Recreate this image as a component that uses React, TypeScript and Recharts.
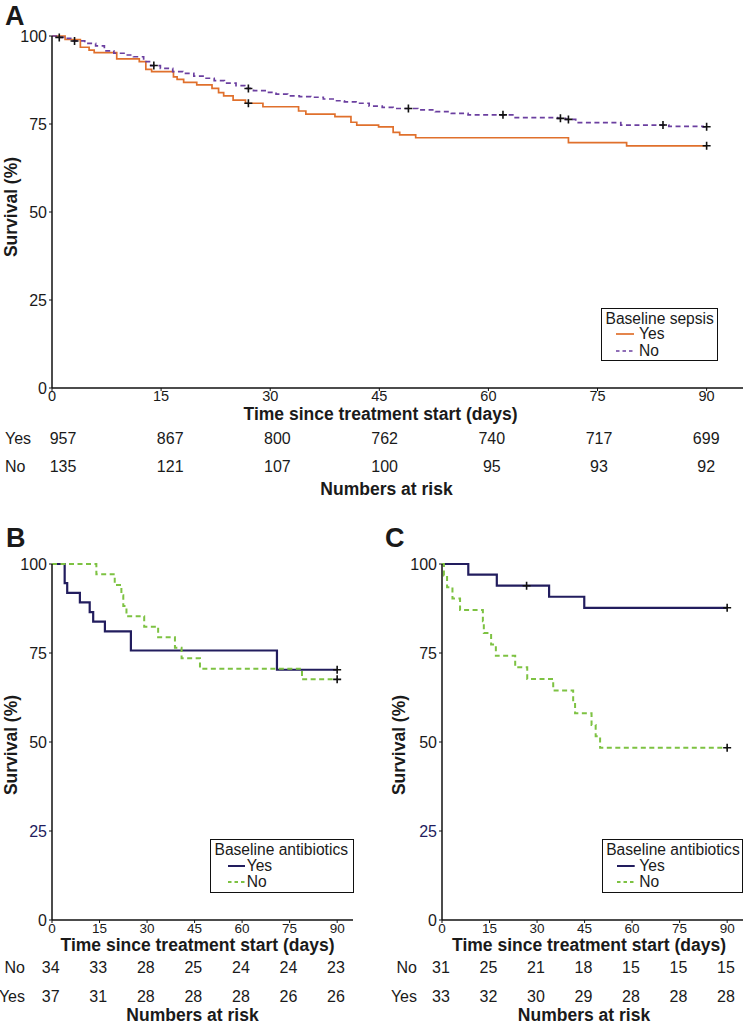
import React from "react";
import { ComposedChart, Line, XAxis, YAxis } from "recharts";

const dayTicks = [0, 15, 30, 45, 60, 75, 90];
const survTicks = [0, 25, 50, 75, 100];

// Panel A - baseline sepsis. [day, survival %]
const sepsisYesSteps = [
  [0, 100], [1.8, 99.0], [3.9, 96.8], [5.1, 96.0], [5.8, 95.3], [8.9, 93.5], [12.0, 92.7],
  [12.9, 90.5], [13.7, 89.9], [16.7, 88.4], [17.2, 87.7], [18.1, 86.8], [19.9, 86.1],
  [22.0, 85.1], [22.9, 83.9], [23.6, 83.0], [24.9, 81.8], [26.6, 80.9], [29.0, 79.9],
  [33.9, 78.7], [34.9, 77.8], [38.9, 77.1], [41.1, 75.5], [41.9, 74.7], [44.9, 74.2],
  [46.9, 72.6], [47.8, 71.9], [50.0, 71.1], [71.0, 69.7], [79.0, 68.8], [90, 68.8],
];
const sepsisYesCensor = [[27.0, 80.9], [90, 68.8]];

const sepsisNoSteps = [
  [0, 100], [0.6, 99.6], [1.6, 99.3], [2.9, 98.6], [4.5, 97.9], [6.0, 97.2], [7.2, 95.8],
  [8.5, 95.1], [9.9, 94.6], [11.2, 94.1], [12.6, 92.7], [13.6, 91.6], [14.9, 90.8],
  [16.6, 89.9], [18.0, 89.4], [19.5, 88.6], [21.0, 88.0], [22.3, 87.3], [23.7, 86.6],
  [25.3, 85.9], [26.5, 85.1], [27.7, 84.5], [29.3, 84.0], [30.8, 83.5], [32.4, 83.0],
  [34.0, 82.8], [35.6, 82.6], [37.3, 82.1], [38.9, 81.6], [40.2, 81.3], [41.8, 80.9],
  [43.6, 80.1], [45.4, 79.7], [46.9, 79.4], [50.3, 79.0], [52.7, 78.5], [54.9, 78.0],
  [57.2, 77.6], [63.5, 76.8], [69.5, 76.6], [70.6, 76.3], [72.0, 75.4], [78.2, 74.7],
  [84.8, 74.3], [89.5, 74.2], [90, 74.2],
];
const sepsisNoCensor = [
  [1.0, 99.6], [3.1, 98.6], [14.0, 91.6], [27.0, 85.1], [49.0, 79.4], [62.0, 77.6],
  [69.9, 76.6], [71.0, 76.3], [84.0, 74.7], [90, 74.2],
];

// Panel B - baseline antibiotics
const abxBYesSteps = [
  [0, 100], [4.0, 94.6], [4.8, 91.9], [8.8, 89.2], [11.9, 86.5], [13.0, 83.8],
  [16.7, 81.1], [24.9, 75.7], [71.0, 70.3], [90, 70.3],
];
const abxBYesCensor = [[90, 70.3]];
const abxBNoSteps = [
  [0, 100], [14.0, 97.1], [19.8, 94.1], [21.9, 91.2], [22.5, 88.2], [23.5, 85.3],
  [29.1, 82.4], [33.5, 79.4], [38.8, 76.5], [40.9, 73.5], [46.7, 70.6], [78.9, 67.6], [90, 67.6],
];
const abxBNoCensor = [[90, 67.6]];

// Panel C - baseline antibiotics
const abxCYesSteps = [
  [0, 100], [8.3, 97.0], [17.3, 93.9], [33.8, 90.8], [44.9, 87.7], [90, 87.7],
];
const abxCYesCensor = [[26.7, 93.9], [90, 87.7]];
const abxCNoSteps = [
  [0, 100], [0.6, 96.8], [1.6, 93.5], [3.3, 90.3], [5.7, 87.1], [12.9, 83.9], [13.2, 80.6],
  [15.5, 77.4], [17.0, 74.2], [23.1, 71.0], [26.9, 67.7], [35.1, 64.5], [41.4, 61.3],
  [42.0, 58.1], [47.2, 54.8], [48.5, 51.6], [49.9, 48.4], [90, 48.4],
];
const abxCNoCensor = [[90, 48.4]];

// numbers at risk
const riskAYes = [957, 867, 800, 762, 740, 717, 699];
const riskANo = [135, 121, 107, 100, 95, 93, 92];
const riskBNo = [34, 33, 28, 25, 24, 24, 23];
const riskBYes = [37, 31, 28, 28, 28, 26, 26];
const riskCNo = [31, 25, 21, 18, 15, 15, 15];
const riskCYes = [33, 32, 30, 29, 28, 28, 28];

const ORANGE = "#e0702c";
const PURPLE = "#6b3fa0";
const NAVY = "#221d5e";
const GREEN = "#7dc242";
const INK = "#1a1a1a";

function build(steps: number[][], censor: number[][]) {
  const pts = steps.map(([t, s]) => ({ t, s, c: false }));
  censor.forEach(([t, s]) => {
    const hit = pts.find((p) => p.t === t && p.s === s);
    if (hit) hit.c = true;
    else pts.push({ t, s, c: true });
  });
  return pts.sort((a, b) => a.t - b.t);
}

function crossDot(p: any) {
  const { cx, cy, payload, index } = p;
  if (!payload || !payload.c) return <g key={`n${index}`} />;
  return (
    <path
      key={`c${index}`}
      d={`M${cx - 4},${cy}H${cx + 4}M${cx},${cy - 4}V${cy + 4}`}
      stroke="#111"
      strokeWidth={1.6}
      fill="none"
    />
  );
}

const yTick = (highlight: boolean) => (p: any) => (
  <text
    x={p.x}
    y={p.y}
    dy="0.36em"
    textAnchor="end"
    fontSize={16}
    fill={highlight && p.payload.value === 25 ? NAVY : INK}
  >
    {p.payload.value}
  </text>
);

const axisLine = { stroke: "#111", strokeWidth: 1.5 };

// text centred vertically on y
function T({ x, y, s = 16, w = "normal", a = "start", children }: any) {
  const shift = a === "middle" ? "-50%" : a === "end" ? "-100%" : "0";
  return (
    <div
      style={{
        position: "absolute",
        left: x,
        top: y - s * 0.49,
        fontSize: s,
        lineHeight: `${s}px`,
        fontWeight: w,
        whiteSpace: "nowrap",
        transform: `translateX(${shift})`,
        color: INK,
      }}
    >
      {children}
    </div>
  );
}

function YTitle({ x, y }: any) {
  return (
    <div
      style={{
        position: "absolute",
        left: x,
        top: y,
        fontSize: 17.5,
        lineHeight: "17.5px",
        fontWeight: "bold",
        whiteSpace: "nowrap",
        transform: "translate(-50%, -50%) rotate(-90deg)",
        color: INK,
      }}
    >
      Survival (%)
    </div>
  );
}

function Legend({ box, title, items, lineX, textX, ys }: any) {
  return (
    <>
      <div
        style={{
          position: "absolute",
          left: box[0],
          top: box[1],
          width: box[2],
          height: box[3],
          border: "1.5px solid #111",
          boxSizing: "border-box",
        }}
      />
      <T x={box[0] + 4.5} y={ys[0]} s={15.6}>{title}</T>
      {items.map((it: any, i: number) => (
        <React.Fragment key={it.label}>
          <svg
            style={{ position: "absolute", left: lineX[0], top: ys[i + 1] - 3 }}
            width={lineX[1] - lineX[0]}
            height={6}
          >
            <line
              x1={0}
              x2={lineX[1] - lineX[0]}
              y1={3}
              y2={3}
              stroke={it.color}
              strokeWidth={it.width}
              strokeDasharray={it.dash}
            />
          </svg>
          <T x={textX} y={ys[i + 1]} s={15.6}>{it.label}</T>
        </React.Fragment>
      ))}
    </>
  );
}

function KM({ left, top, width, height, yWidth, margin, lines, highlight, xFont, xGap }: any) {
  return (
    <div style={{ position: "absolute", left, top }}>
      <ComposedChart width={width} height={height} margin={margin}>
        <XAxis
          dataKey="t"
          type="number"
          domain={[0, 95]}
          ticks={dayTicks}
          allowDataOverflow
          height={30}
          axisLine={axisLine}
          tickLine={{ stroke: "#111" }}
          tickSize={3}
          tickMargin={xGap}
          tick={{ fontSize: xFont, fill: INK }}
        />
        <YAxis
          type="number"
          domain={[0, 100]}
          ticks={survTicks}
          width={yWidth}
          axisLine={axisLine}
          tickLine={{ stroke: "#111" }}
          tickSize={3}
          tick={yTick(highlight)}
        />
        {lines.map((l: any) => (
          <Line
            key={l.name}
            name={l.name}
            data={l.data}
            dataKey="s"
            type="stepAfter"
            stroke={l.color}
            strokeWidth={l.width}
            strokeDasharray={l.dash}
            dot={crossDot}
            activeDot={false}
            isAnimationActive={false}
          />
        ))}
      </ComposedChart>
    </div>
  );
}

export default function App() {
  const riskRow = (vals: number[], x0: number, step: number, y: number, key: string) =>
    vals.map((v, i) => (
      <T key={key + i} x={x0 + step * i} y={y} a="middle">
        {v}
      </T>
    ));

  return (
    <div
      style={{
        position: "absolute",
        left: 0,
        top: 0,
        width: 749,
        height: 1024,
        background: "#fff",
        fontFamily: "'Liberation Sans', Arial, Helvetica, sans-serif",
        color: INK,
      }}
    >
      {/* Panel A */}
      <KM
        left={0}
        top={0}
        width={749}
        height={418}
        yWidth={52}
        xFont={14.5}
        xGap={0}
        margin={{ top: 36, right: 6, bottom: 0, left: 0 }}
        highlight={false}
        lines={[
          { name: "Yes", data: build(sepsisYesSteps, sepsisYesCensor), color: ORANGE, width: 1.7 },
          { name: "No", data: build(sepsisNoSteps, sepsisNoCensor), color: PURPLE, width: 1.7, dash: "5 3.5" },
        ]}
      />
      <T x={5} y={16} s={27} w="bold">A</T>
      <YTitle x={12} y={207} />
      <T x={380.5} y={415} s={17.5} w="bold" a="middle">Time since treatment start (days)</T>
      <T x={5} y={439}>Yes</T>
      <T x={5} y={466.5}>No</T>
      {riskRow(riskAYes, 63, 107.2, 439, "ay")}
      {riskRow(riskANo, 63, 107.2, 466.5, "an")}
      <T x={386.5} y={489.5} s={17.5} w="bold" a="middle">Numbers at risk</T>
      <Legend
        box={[601, 308, 117, 53]}
        title="Baseline sepsis"
        lineX={[616, 634]}
        textX={639}
        ys={[318.7, 334, 350.7]}
        items={[
          { label: "Yes", color: ORANGE, width: 1.7 },
          { label: "No", color: PURPLE, width: 1.7, dash: "3.5 3" },
        ]}
      />

      {/* Panel B */}
      <KM
        left={0}
        top={540}
        width={360}
        height={410}
        yWidth={52}
        xFont={13.5}
        xGap={0}
        margin={{ top: 24, right: 7, bottom: 0, left: 0 }}
        highlight={true}
        lines={[
          { name: "Yes", data: build(abxBYesSteps, abxBYesCensor), color: NAVY, width: 2.2 },
          { name: "No", data: build(abxBNoSteps, abxBNoCensor), color: GREEN, width: 2, dash: "5 3.5" },
        ]}
      />
      <T x={6} y={538} s={27} w="bold">B</T>
      <YTitle x={12} y={745} />
      <T x={197.5} y={945.5} s={17.5} w="bold" a="middle">Time since treatment start (days)</T>
      <T x={25} y={968.3} a="end">No</T>
      <T x={25} y={997.3} a="end">Yes</T>
      {riskRow(riskBNo, 50.7, 47.55, 968.3, "bn")}
      {riskRow(riskBYes, 50.7, 47.55, 997.3, "by")}
      <T x={192.5} y={1015.5} s={17.5} w="bold" a="middle">Numbers at risk</T>
      <Legend
        box={[210, 839, 143.5, 53.5]}
        title="Baseline antibiotics"
        lineX={[227.7, 245]}
        textX={246.7}
        ys={[850, 865.5, 882]}
        items={[
          { label: "Yes", color: NAVY, width: 2 },
          { label: "No", color: GREEN, width: 2, dash: "3.5 3" },
        ]}
      />

      {/* Panel C */}
      <KM
        left={380}
        top={540}
        width={369}
        height={410}
        yWidth={62}
        xFont={13.5}
        xGap={0}
        margin={{ top: 24, right: 6, bottom: 0, left: 0 }}
        highlight={true}
        lines={[
          { name: "Yes", data: build(abxCYesSteps, abxCYesCensor), color: NAVY, width: 2.2 },
          { name: "No", data: build(abxCNoSteps, abxCNoCensor), color: GREEN, width: 2, dash: "5 3.5" },
        ]}
      />
      <T x={385} y={538} s={27} w="bold">C</T>
      <YTitle x={400} y={745} />
      <T x={589} y={945.5} s={17.5} w="bold" a="middle">Time since treatment start (days)</T>
      <T x={417} y={968.3} a="end">No</T>
      <T x={417} y={997.3} a="end">Yes</T>
      {riskRow(riskCNo, 441, 47.5, 968.3, "cn")}
      {riskRow(riskCYes, 441, 47.5, 997.3, "cy")}
      <T x={584} y={1015.5} s={17.5} w="bold" a="middle">Numbers at risk</T>
      <Legend
        box={[601.7, 839, 141, 53.5]}
        title="Baseline antibiotics"
        lineX={[617.3, 635]}
        textX={639.3}
        ys={[850, 865.5, 882]}
        items={[
          { label: "Yes", color: NAVY, width: 2 },
          { label: "No", color: GREEN, width: 2, dash: "3.5 3" },
        ]}
      />
    </div>
  );
}
